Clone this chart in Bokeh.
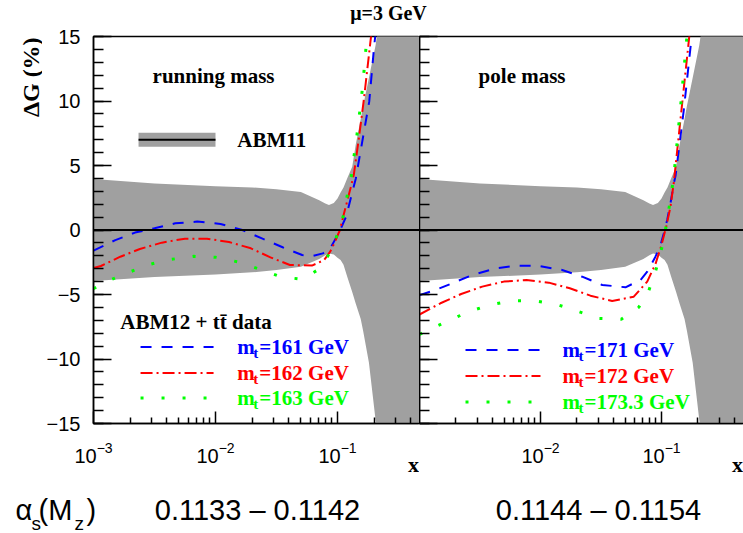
import math
from bokeh.plotting import figure
from bokeh.layouts import column, row
from bokeh.models import Range1d, FixedTicker, Label, Span, LogAxis, CustomJSTickFormatter
from bokeh.embed import file_html
from bokeh.resources import INLINE

# ---------------- data ----------------
# ABM11 uncertainty band (same in both panels)
band_x = [0.001, 0.00316, 0.01, 0.02, 0.0316, 0.0501, 0.0708, 0.0794, 0.0851, 0.0933, 0.1, 0.106,
          0.112, 0.120, 0.132, 0.141, 0.155, 0.162, 0.181, 0.205, 0.251, 0.501]
band_hi = [3.95, 3.6, 3.4, 3.3, 3.15, 2.95, 2.3, 2.05, 1.94, 2.1, 2.45, 2.9,
           3.3, 4.0, 4.9, 6.6, 8.6, 9.6, 11.8, 14.3, 20, 40]
band_lo = [-3.95, -3.65, -3.45, -3.28, -3.1, -2.84, -2.25, -1.95, -1.82, -1.9, -2.15, -2.33,
           -2.7, -3.6, -4.8, -5.7, -6.9, -7.8, -10.3, -14.7, -20, -40]

# running mass panel
run161_x = [0.001, 0.00151, 0.00219, 0.00316, 0.00468, 0.00708, 0.011, 0.0166, 0.024, 0.0355, 0.0513,
            0.0631, 0.0759, 0.0871, 0.1023, 0.1175, 0.1413, 0.1585, 0.182, 0.1995, 0.209]
run161_y = [-1.6, -0.78, -0.2, 0.13, 0.52, 0.65, 0.47, 0.0, -0.65, -1.34, -1.94,
            -2.0, -1.81, -1.42, -0.26, 1.03, 4.0, 6.7, 9.95, 14.2, 16.0]
run162_x = [0.001, 0.00115, 0.00166, 0.0024, 0.00363, 0.00562, 0.00851, 0.0129, 0.0195, 0.0282, 0.0407,
            0.0617, 0.0776, 0.0871, 0.0955, 0.1047, 0.1122, 0.1288, 0.1361, 0.1496, 0.1644, 0.1862, 0.195]
run162_y = [-2.95, -2.79, -2.07, -1.47, -0.98, -0.67, -0.67, -0.93, -1.42, -2.12, -2.71,
            -2.76, -2.33, -1.68, -0.9, 0.0, 1.16, 3.36, 4.3, 7.1, 10.1, 14.6, 16.2]
run163_x = [0.001, 0.00133, 0.00195, 0.0029, 0.00437, 0.00664, 0.0101, 0.0154, 0.0227, 0.0341, 0.0513,
            0.0716, 0.0877, 0.1005, 0.1127, 0.120, 0.1294, 0.1361, 0.1432, 0.1496, 0.1563, 0.1626,
            0.1675, 0.173, 0.178]
run163_y = [-4.55, -3.93, -3.28, -2.66, -2.27, -2.04, -2.12, -2.48, -3.02, -3.62, -3.82,
            -3.0, -1.68, -0.26, 1.22, 2.66, 4.13, 5.63, 7.1, 8.58, 10.08, 11.6,
            13.1, 14.6, 16.0]

# pole mass panel
pole171_x = [0.001, 0.0014, 0.00186, 0.00273, 0.00425, 0.00641, 0.00968, 0.0151, 0.0221, 0.0324, 0.0504,
             0.067, 0.0762, 0.0891, 0.0982, 0.1045, 0.1114, 0.1186, 0.1265, 0.1306, 0.1528, 0.1738, 0.1799]
pole171_y = [-5.05, -4.6, -4.13, -3.49, -2.97, -2.76, -2.79, -3.1, -3.62, -4.26, -4.44,
             -3.88, -3.23, -2.07, -1.16, -0.26, 0.78, 2.07, 3.62, 4.2, 9.3, 14.2, 15.5]
pole172_x = [0.001, 0.00149, 0.00221, 0.0033, 0.00498, 0.00766, 0.01172, 0.01746, 0.02588, 0.0391,
             0.059, 0.0762, 0.0891, 0.1, 0.1094, 0.1186, 0.1265, 0.1462, 0.1683, 0.1738]
pole172_y = [-6.55, -5.68, -4.96, -4.39, -4.0, -3.88, -4.08, -4.52, -5.09, -5.5,
             -5.17, -4.0, -2.64, -1.16, 0.26, 1.8, 3.7, 9.3, 14.7, 16.0]
pole173_x = [0.001, 0.00119, 0.00175, 0.00255, 0.00381, 0.00583, 0.00891, 0.01355, 0.0203, 0.0303,
             0.0465, 0.0649, 0.0785, 0.0891, 0.0982, 0.1064, 0.1135, 0.1202, 0.1265, 0.1455, 0.161, 0.166]
pole173_y = [-8.1, -7.75, -7.03, -6.33, -5.81, -5.48, -5.48, -5.76, -6.3, -6.85,
             -6.92, -5.99, -4.7, -3.23, -1.81, -0.31, 1.29, 2.71, 4.19, 10.08, 14.65, 16.0]

y_major = [-15, -10, -5, 0, 5, 10, 15]
y_minor = list(range(-15, 16))
x_major_left = [0.001, 0.01, 0.1]
x_major_right = [0.01, 0.1]
x_minor = [k * d for d in (0.001, 0.01, 0.1) for k in range(2, 10)]

labels_run = ["=161 GeV", "=162 GeV", "=163 GeV"]
labels_pole = ["=171 GeV", "=172 GeV", "=173.3 GeV"]

# ---------------- style ----------------
GRAY = "#a0a0a0"
BLUE = "#0000ff"
RED = "#ff0000"
GREEN = "#00ff00"
SERIF = "Liberation Serif"
SANS = "Liberation Sans"
STYLES = [dict(color=BLUE, line_width=2, line_dash="11 10"),
          dict(color=RED, line_width=2, line_dash="12 4 2 4"),
          dict(color=GREEN, line_width=3, line_dash="3 18")]
TOP_H = 24
BORDER_TOP = 12
ROW_H = BORDER_TOP + 387 + 57


def blank(width, height, y_top, y_bottom):
    f = figure(width=width, height=height, x_range=Range1d(0, width),
               y_range=Range1d(y_bottom, y_top), toolbar_location=None, title=None,
               output_backend="svg", min_border=0, x_axis_location=None,
               y_axis_location=None, outline_line_color=None)
    for g in f.grid:
        g.visible = False
    return f


def panel(width, xmax, left_border, x_major, show_ylabels, x_end):
    p = figure(width=width, height=ROW_H, x_axis_type="log", title=None,
               x_range=Range1d(0.001, xmax), y_range=Range1d(-15, 15),
               toolbar_location=None, output_backend="svg",
               min_border_left=left_border, min_border_right=0,
               min_border_top=BORDER_TOP, min_border_bottom=57)
    p.xgrid.visible = False
    p.ygrid.visible = False
    p.outline_line_color = "black"
    p.outline_line_width = 1.5
    xa = p.xaxis[0]
    xa.ticker = FixedTicker(ticks=x_major, minor_ticks=x_minor)
    xa.major_tick_in = 12
    xa.major_tick_out = 0
    xa.minor_tick_in = 6
    xa.minor_tick_out = 0
    xa.axis_line_width = 1.5
    xa.major_tick_line_width = 1.5
    xa.minor_tick_line_width = 1.5
    xa.major_label_text_font = SANS
    xa.major_label_text_font_size = "20px"
    xa.major_label_text_color = "black"
    xa.major_label_standoff = 18
    ya = p.yaxis[0]
    ya.ticker = FixedTicker(ticks=y_major, minor_ticks=y_minor)
    ya.major_tick_in = 18
    ya.major_tick_out = 0
    ya.minor_tick_in = 10
    ya.minor_tick_out = 0
    ya.axis_line_width = 1.5
    ya.major_tick_line_width = 1.5
    ya.minor_tick_line_width = 1.5
    ya.major_label_text_font = SANS
    ya.major_label_text_font_size = "20px"
    ya.major_label_text_color = "black"
    if show_ylabels:
        ya.major_label_standoff = 13
        ya.major_label_overrides = {v: (str(v) if v >= 0 else "\u2212" + str(-v)) for v in y_major}
    else:
        ya.major_label_standoff = 0
        ya.major_label_overrides = {v: "" for v in y_major}
    # the "x" variable name at the right end of the axis
    ax = LogAxis(ticker=FixedTicker(ticks=[x_end], minor_ticks=[]),
                 formatter=CustomJSTickFormatter(code="return 'x'"),
                 axis_line_color=None, major_tick_line_color=None, minor_tick_line_color=None,
                 major_tick_in=0, major_tick_out=0, minor_tick_in=0, minor_tick_out=0,
                 major_label_standoff=-14, major_label_text_font=SERIF,
                 major_label_text_font_style="bold", major_label_text_font_size="22px",
                 major_label_text_color="black")
    p.add_layout(ax, "below")
    # ABM11 band and zero line
    p.varea(x=band_x, y1=band_lo, y2=band_hi, fill_color=GRAY)
    p.add_layout(Span(location=0, dimension="width", line_color="black", line_width=2))
    return p


def text(p, x, y, s, size="21px", color="black", font=SERIF, style="bold",
         xo=0, yo=0, align="left", baseline="middle", angle=0):
    p.add_layout(Label(x=x, y=y, text=s, x_offset=xo, y_offset=yo,
                       text_font=font, text_font_size=size, text_font_style=style,
                       text_color=color, text_align=align, text_baseline=baseline,
                       angle=angle))


def legend_rows(p, x0, x1, xt, ys, labels):
    for st, yy, lab in zip(STYLES, ys, labels):
        p.line(x=[x0, x1], y=[yy, yy], **st)
        text(p, xt, yy, "m", color=st["color"])
        text(p, xt, yy, "t", color=st["color"], size="15px", xo=16, yo=-6)
        text(p, xt, yy, lab, color=st["color"], xo=22)


# ---------------- y-axis title strip (window pixel coordinates) ----------------
strip = blank(42, ROW_H, TOP_H, TOP_H + ROW_H)
text(strip, 30, 72, "\u0394G (%)", size="24px", align="center", angle=math.pi / 2)

# ---------------- left panel: running mass ----------------
p1 = panel(377, 0.47, 51, x_major_left, True, 0.42)
for xs, ys, st in zip([run161_x, run162_x, run163_x], [run161_y, run162_y, run163_y], STYLES):
    p1.line(x=xs, y=ys, **st)
# ABM11 legend swatch
p1.quad(left=[0.00234], right=[0.01], bottom=[6.45], top=[7.53], fill_color=GRAY, line_color=None)
p1.line(x=[0.00234, 0.01], y=[7.0, 7.0], line_color="black", line_width=2)
text(p1, 0.0151, 7.0, "ABM11")
text(p1, 0.00305, 11.94, "running mass")
text(p1, 0.00166, -7.13, "ABM12 + t\u0074\u0304 data")
legend_rows(p1, 0.00243, 0.00964, 0.0151, [-9.07, -11.09, -13.02], labels_run)

# ---------------- right panel: pole mass ----------------
p2 = panel(324, 0.476, 0, x_major_right, False, 0.4325)
for xs, ys, st in zip([pole171_x, pole172_x, pole173_x], [pole171_y, pole172_y, pole173_y], STYLES):
    p2.line(x=xs, y=ys, **st)
text(p2, 0.00308, 11.94, "pole mass")
legend_rows(p2, 0.0024, 0.01, 0.0152, [-9.3, -11.32, -13.33], labels_pole)

# ---------------- title and bottom line (window pixel coordinates) ----------------
top = blank(743, TOP_H, 0, TOP_H)
text(top, 388, 12.5, "\u03bc=3 GeV", size="20px", align="center")

bottom = blank(743, 53, 480, 533)
text(bottom, 15, 509, "\u03b1", size="29px", font=SANS, style="normal")
text(bottom, 31, 523, "s", size="19px", font=SANS, style="normal")
text(bottom, 38, 509, "(M", size="29px", font=SANS, style="normal")
text(bottom, 74, 523, "z", size="19px", font=SANS, style="normal")
text(bottom, 86, 509, ")", size="29px", font=SANS, style="normal")
text(bottom, 257, 509, "0.1133 \u2013 0.1142", size="29px", font=SANS, style="normal", align="center")
text(bottom, 598, 509, "0.1144 \u2013 0.1154", size="29px", font=SANS, style="normal", align="center")

layout = column(top, row(strip, p1, p2), bottom)
open("out.html", "w").write(file_html(layout, INLINE))
